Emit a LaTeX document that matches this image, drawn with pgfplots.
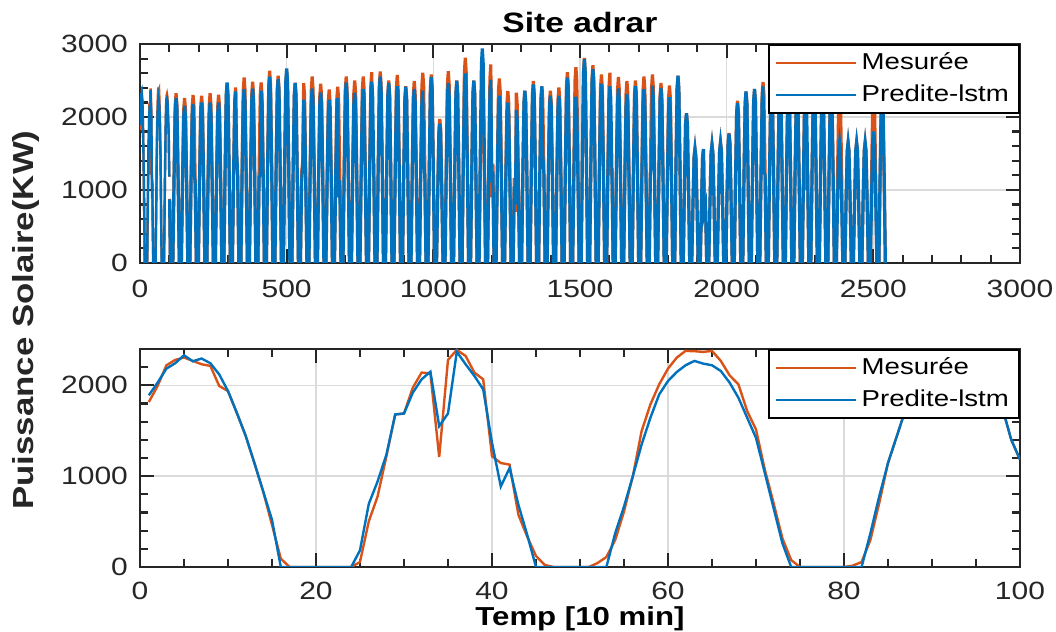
\documentclass[border=0pt]{standalone}
\usepackage{fontspec}
\setmainfont{Liberation Sans}[FakeStretch=1.2]
\usepackage{pgfplots}
\usepackage{pgfplotstable}
\pgfplotsset{compat=1.18}
\definecolor{morange}{RGB}{217,83,25}
\definecolor{mblue}{RGB}{0,114,189}
\definecolor{axgray}{RGB}{38,38,38}

\pgfplotstableread{
x m p
1 1816 1890
2 1993 2030
3 2220 2184
4 2280 2243
5 2306 2331
6 2269 2265
7 2232 2295
8 2214 2243
9 1993 2121
10 1937 1937
11 1698 1698
12 1447 1447
13 1145 1145
14 832 832
15 464 519
16 92 0
17 0 0
18 0 0
19 0 0
20 0 0
21 0 0
22 0 0
23 0 0
24 0 0
25 55 184
26 503 695
27 777 942
28 1219 1237
29 1679 1679
30 1690 1690
31 1974 1919
32 2140 2066
33 2132 2150
34 1212 1551
35 2280 1690
36 2390 2370
37 2324 2232
38 2140 2103
39 2066 1956
40 1219 1367
41 1145 887
42 1127 1090
43 575 685
44 335 354
45 121 0
46 22 0
47 0 0
48 0 0
49 0 0
50 0 0
51 0 0
52 44 0
53 110 0
54 298 372
55 611 666
56 998 998
57 1495 1348
58 1790 1643
59 2011 1900
60 2184 2048
61 2306 2147
62 2379 2221
63 2376 2269
64 2368 2239
65 2379 2221
66 2269 2158
67 2110 2030
68 2011 1864
69 1716 1643
70 1514 1422
71 1072 1035
72 703 648
73 316 262
74 76 0
75 0 0
76 0 0
77 0 0
78 0 0
79 0 0
80 0 0
81 15 0
82 55 0
83 298 372
84 703 777
85 1145 1145
86 1440 1440
87 1735 1735
88 1980 1960
89 2150 2120
90 2250 2210
91 2300 2250
92 2315 2260
93 2290 2240
94 2230 2180
95 2120 2080
96 1990 1960
97 1870 1850
98 1750 1750
99 1403 1403
100 1182 1182
}\bottomdata

\pgfplotstableread{
x m p
101 880 870
102 560 540
103 250 220
104 0 0
112 0 0
116 1162 1130
120 2161 2102
123 2324 2260
126 2161 2102
130 1162 1130
134 0 0
141 0 0
145 1130 1078
149 2102 2004
152 2260 2155
155 2102 2004
159 1130 1078
163 0 0
170 0 0
174 1150 1089
178 2139 2026
181 2300 2178
184 2139 1300
188 1150 1089
192 0 0
199 0 0
203 1146 1100
207 2132 2046
210 2292 2200
213 2132 2046
217 1146 1100
221 0 0
228 0 0
232 1162 1100
236 2161 2046
239 2324 2200
242 2161 2046
246 1162 1100
250 0 0
257 0 0
261 1153 1100
265 2145 2046
268 2306 2200
271 2145 2046
275 1153 1100
279 0 0
286 0 0
290 1230 1237
294 2288 2301
297 2460 2474
300 2288 2301
304 1230 1237
308 0 0
315 0 0
319 1203 1176
323 2237 2186
326 2405 2351
329 1500 1600
333 1203 1176
337 0 0
344 0 0
348 1271 1192
352 2364 2216
355 2542 2383
358 2364 2216
362 1271 1192
366 0 0
373 0 0
377 1242 1196
381 2309 2225
384 2483 2392
387 2309 2225
391 1242 1196
395 0 0
402 0 0
406 1237 1180
410 2301 1200
413 2474 2360
416 2301 2195
420 1237 1180
424 0 0
431 0 0
435 1317 1276
439 2449 2372
442 2633 2551
445 2449 2372
449 1317 1276
453 0 0
460 0 0
464 1283 1260
468 2385 2343
471 2565 2519
474 2385 2343
478 1283 1260
482 0 0
489 0 0
493 1320 1333
497 2455 2478
500 2640 2665
503 2455 2478
507 1320 1333
511 0 0
518 0 0
522 1235 1233
526 2297 2292
529 2470 2465
532 2297 2292
536 1235 1233
540 0 0
547 0 0
551 1233 1119
555 1400 1350
558 2465 2237
561 2292 2080
565 1233 1119
569 0 0
576 0 0
580 1278 1196
584 2377 2225
587 2556 2392
590 2377 2225
594 1278 1196
598 0 0
605 0 0
609 1228 1169
613 2284 2173
616 2456 2337
619 2284 2173
623 1228 1169
627 0 0
634 0 0
638 1189 1119
642 2212 2080
645 2378 2237
648 2212 2080
652 1189 1119
656 0 0
663 0 0
667 1207 1130
671 2245 2102
674 2414 2260
677 2245 900
681 1207 1130
685 0 0
692 0 0
696 1278 1237
700 2377 2301
703 2556 2474
706 2377 2301
710 1278 1237
714 0 0
721 0 0
725 1251 1167
729 2326 2170
732 2501 2333
735 2326 2170
739 1251 1167
743 0 0
750 0 0
754 1278 1192
758 2377 2216
761 2556 2383
764 2377 2216
768 1278 1192
772 0 0
779 0 0
783 1308 1242
787 2432 2309
790 2615 2483
793 1700 2309
797 1308 1242
801 0 0
808 0 0
812 1312 1278
816 2440 2377
819 2624 2556
822 2440 2377
826 1312 1278
830 0 0
837 0 0
841 1251 1233
845 2326 2292
848 2501 2465
851 2326 2292
855 1251 1233
859 0 0
866 0 0
870 1287 1210
874 2394 2251
877 2574 2420
880 2394 2251
884 1287 1210
888 0 0
895 0 0
899 1210 1208
903 2251 2246
906 2420 2415
909 2251 2246
913 1210 1208
917 0 0
924 0 0
928 1246 1192
932 2318 2216
935 2492 2383
938 2318 2216
942 1246 1192
946 0 0
953 0 0
957 1303 1180
961 2424 2195
964 2606 2360
967 2424 1450
971 1303 1180
975 0 0
982 0 0
986 1292 1274
990 2402 2369
993 2583 2547
996 2402 2369
1000 1292 1274
1004 0 0
1011 0 0
1015 987 953
1019 1836 1773
1022 1974 1906
1025 1836 1773
1029 987 953
1033 0 0
1040 0 0
1044 1314 1233
1048 2444 2292
1051 2628 2465
1054 2444 2292
1058 1314 1233
1062 0 0
1069 0 0
1073 1250 1249
1077 2325 2322
1080 2500 2497
1083 2325 2322
1087 1250 1249
1091 0 0
1098 0 0
1102 1406 1299
1106 2614 2415
1109 2811 2597
1112 2614 2415
1116 1406 1299
1120 0 0
1127 0 0
1131 1250 1249
1135 2325 2322
1138 2500 2497
1141 2325 2322
1145 1250 1249
1149 0 0
1156 0 0
1160 1250 1469
1164 2325 2732
1167 2500 2938
1170 2325 2732
1174 1250 1469
1178 0 0
1185 0 0
1189 1360 1255
1193 2530 2334
1196 2720 2510
1199 900 1100
1203 1360 1255
1207 0 0
1214 0 0
1218 1264 1146
1222 2351 2132
1225 2528 2292
1228 2351 2132
1232 1264 1146
1236 0 0
1243 0 0
1247 1178 1098
1251 2190 2042
1254 2355 2196
1257 2190 2042
1261 1178 1098
1265 0 0
1272 0 0
1276 1167 1048
1280 700 800
1283 2333 2096
1286 2170 1949
1290 1167 1048
1294 0 0
1301 0 0
1305 1180 1180
1309 2195 2195
1312 2360 2360
1315 2195 2195
1319 1180 1180
1323 0 0
1330 0 0
1334 1246 1224
1338 2318 2276
1341 2492 2447
1344 2318 2276
1348 1246 1224
1352 0 0
1359 0 0
1363 1210 1210
1367 2251 2251
1370 2420 2420
1373 2251 1500
1377 1210 1210
1381 0 0
1388 0 0
1392 1180 1146
1396 2195 2132
1399 2360 2292
1402 2195 2132
1406 1180 1146
1410 0 0
1417 0 0
1421 1203 1146
1425 2237 2132
1428 2405 2292
1431 2237 2132
1435 1203 1146
1439 0 0
1446 0 0
1450 1308 1269
1454 2432 2360
1457 2615 2538
1460 2432 2360
1464 1308 1269
1468 0 0
1475 0 0
1479 1342 1139
1483 2495 2119
1486 2683 2278
1489 2495 2119
1493 1342 1139
1497 0 0
1504 0 0
1508 1405 1396
1512 2613 2597
1515 2810 2792
1518 2613 2597
1522 1405 1396
1526 0 0
1533 0 0
1537 1355 1328
1541 2520 2470
1544 2710 2656
1547 2520 2470
1551 1355 1328
1555 0 0
1562 0 0
1566 1292 1228
1570 2402 2284
1573 2583 2456
1576 2402 2284
1580 1292 1228
1584 0 0
1591 0 0
1595 1303 1210
1599 2424 2251
1602 2606 2420
1605 1200 2251
1609 1303 1210
1613 0 0
1620 0 0
1624 1274 1196
1628 2369 2225
1631 2547 2392
1634 2369 2225
1638 1274 1196
1642 0 0
1649 0 0
1653 1246 1158
1657 2318 2153
1660 2492 2315
1663 2318 2153
1667 1246 1158
1671 0 0
1678 0 0
1682 1251 1210
1686 2326 2251
1689 2501 2420
1692 2326 2251
1696 1251 1210
1700 0 0
1707 0 0
1711 1278 1192
1715 2377 2216
1718 2556 2383
1721 2377 2216
1725 1278 1192
1729 0 0
1736 0 0
1740 1292 1215
1744 2402 1350
1747 2583 2429
1750 2402 2259
1754 1292 1215
1758 0 0
1765 0 0
1769 1233 1199
1773 2292 2229
1776 2465 2397
1779 2292 2229
1783 1233 1199
1787 0 0
1794 0 0
1798 1217 1135
1802 2263 2110
1805 2433 2269
1808 2263 2110
1812 1217 1135
1816 0 0
1823 0 0
1827 1283 1283
1831 2385 2385
1834 2565 2565
1837 2385 2385
1841 1283 1283
1845 0 0
1852 0 0
1856 1026 1026
1860 1907 1907
1863 2051 2051
1866 1907 1907
1870 1026 1026
1874 0 0
1881 0 0
1885 783 783
1889 1455 1455
1892 1565 1565
1895 1455 1455
1899 783 783
1903 0 0
1910 0 0
1914 780 780
1918 1451 1451
1921 1560 1560
1924 600 700
1928 780 780
1932 0 0
1939 0 0
1943 810 810
1947 1507 1507
1950 1620 1620
1953 1507 1507
1957 810 810
1961 0 0
1968 0 0
1972 826 826
1976 1535 1535
1979 1651 1651
1982 1535 1535
1986 826 826
1990 0 0
1997 0 0
2001 890 885
2005 1655 1646
2008 1780 1770
2011 1655 1646
2015 890 885
2019 0 0
2026 0 0
2030 1112 1095
2034 2068 2037
2037 2224 2190
2040 2068 2037
2044 1112 1095
2048 0 0
2055 0 0
2059 1176 1176
2063 2186 2186
2066 2351 2351
2069 2186 2186
2073 1176 1176
2077 0 0
2084 0 0
2088 1192 1192
2092 2216 2216
2095 2383 2383
2098 2216 2216
2102 1192 1192
2106 0 0
2113 0 0
2117 1240 1210
2121 2306 2251
2124 2480 2420
2127 2306 1250
2131 1240 1210
2135 0 0
2142 0 0
2146 1210 1190
2150 2251 2213
2153 2420 2380
2156 2251 2213
2160 1210 1190
2164 0 0
2171 0 0
2175 1250 1220
2179 2325 2269
2182 2500 2440
2185 2325 2269
2189 1250 1220
2193 0 0
2200 0 0
2204 1225 1200
2208 2279 2232
2211 2450 2400
2214 2279 2232
2218 1225 1200
2222 0 0
2229 0 0
2233 1190 1165
2237 2213 2167
2240 2380 2330
2243 2213 2167
2247 1190 1165
2251 0 0
2258 0 0
2262 1260 1225
2266 2344 2279
2269 2520 2450
2272 1000 2279
2276 1260 1225
2280 0 0
2287 0 0
2291 1230 1205
2295 2288 2241
2298 2460 2410
2301 2288 2241
2305 1230 1205
2309 0 0
2316 0 0
2320 1200 1175
2324 2232 2186
2327 2400 2350
2330 2232 2186
2334 1200 1175
2338 0 0
2345 0 0
2349 1225 1190
2353 2279 2213
2356 2450 2380
2359 2279 2213
2363 1225 1190
2367 0 0
2374 0 0
2378 1200 828
2382 2232 1539
2385 2400 1655
2388 2232 1539
2392 1200 828
2396 0 0
2403 0 0
2407 825 825
2411 1535 1535
2414 1650 1650
2417 1535 1535
2421 825 825
2425 0 0
2432 0 0
2436 825 825
2440 1535 1535
2443 1650 1650
2446 1535 1535
2450 825 825
2454 0 0
2461 0 0
2465 825 825
2469 1535 1535
2472 1650 1650
2475 1535 1535
2479 825 825
2483 0 0
2490 0 0
2494 1175 900
2498 2186 1674
2501 2350 1800
2504 2186 1674
2508 1175 900
2512 0 0
2519 0 0
2523 1125 1200
2527 2093 2232
2530 2250 2400
2533 2093 2232
2537 1125 1200
2541 0 0
}\cycledata

\pgfplotsset{
  mstyle/.style={
    scale only axis,
    width=440pt,
    axis line style={axgray, line width=1.1pt},
    every tick/.style={axgray, line width=1.1pt},
    tick align=inside,
    major tick length=7pt,
    minor tick length=3.8pt,
    grid=major,
    major grid style={black!14, line width=0.7pt},
    tick label style={font=\fontsize{12.5}{14}\selectfont, text=axgray},
    xticklabel style={inner sep=1pt, yshift=-7.5pt},
    yticklabel style={xshift=-2.5pt},
    /pgf/number format/assume math mode=true,
    /pgf/number format/1000 sep={},
    scaled ticks=false,
    legend style={at={(1,1)}, anchor=north east, draw=black, line width=1.1pt,
      font=\fontsize{11.5}{13}\selectfont, fill=white,
      inner xsep=3pt, inner ysep=1pt,
      nodes={inner sep=2pt, text height=9pt, text depth=3pt}},
    legend cell align=left,
    legend image code/.code={\draw[#1, line width=1.2pt] (0pt,0pt) -- (40pt,0pt);},
  },
  morange line/.style={color=morange, line width=1.2pt, no markers},
  mblue line/.style={color=mblue, line width=1.2pt, no markers},
}

\begin{document}
\begin{tikzpicture}
\useasboundingbox (0,0) rectangle (528pt,316pt);

\begin{axis}[mstyle,
  at={(70pt,184.5pt)}, anchor=south west,
  height=109.5pt,
  xmin=0, xmax=3000, ymin=0, ymax=3000,
  xtick={0,500,...,3000}, ytick={0,1000,2000,3000},
  minor x tick num=4, minor y tick num=4,
  title={\textbf{Site adrar}},
  title style={font=\fontsize{14}{16}\selectfont, at={(axis description cs:0.5,1)}, anchor=base, yshift=0pt},
]
\addplot[morange line] table[x=x, y=m] {\bottomdata};
\addlegendentry{Mesurée}
\addplot[morange line, line width=1.6pt, forget plot] table[x=x, y=m] {\cycledata};
\addplot[mblue line] table[x=x, y=p] {\bottomdata};
\addlegendentry{Predite-lstm}
\addplot[mblue line, line width=1.6pt, forget plot] table[x=x, y=p] {\cycledata};
\end{axis}

\begin{axis}[mstyle,
  at={(70pt,32.5pt)}, anchor=south west,
  height=109pt,
  xmin=0, xmax=100, ymin=0, ymax=2400,
  xtick={0,20,...,100}, ytick={0,1000,2000},
  minor x tick num=3, minor ytick={0,200,...,2400},
  xticklabel style={yshift=1pt},
  xlabel={\textbf{Temp [10 min]}},
  xlabel style={font=\fontsize{13}{15}\selectfont, at={(axis description cs:0.5,0)}, anchor=north, inner sep=0.5pt, yshift=-19pt},
]
\addplot[morange line] table[x=x, y=m] {\bottomdata};
\addlegendentry{Mesurée}
\addplot[mblue line] table[x=x, y=p] {\bottomdata};
\addlegendentry{Predite-lstm}
\end{axis}

\node[rotate=90, anchor=base, font=\bfseries\fontsize{14.5}{16}\selectfont, text=axgray] at (17pt,156pt) {Puissance Solaire(KW)};
\end{tikzpicture}
\end{document}
